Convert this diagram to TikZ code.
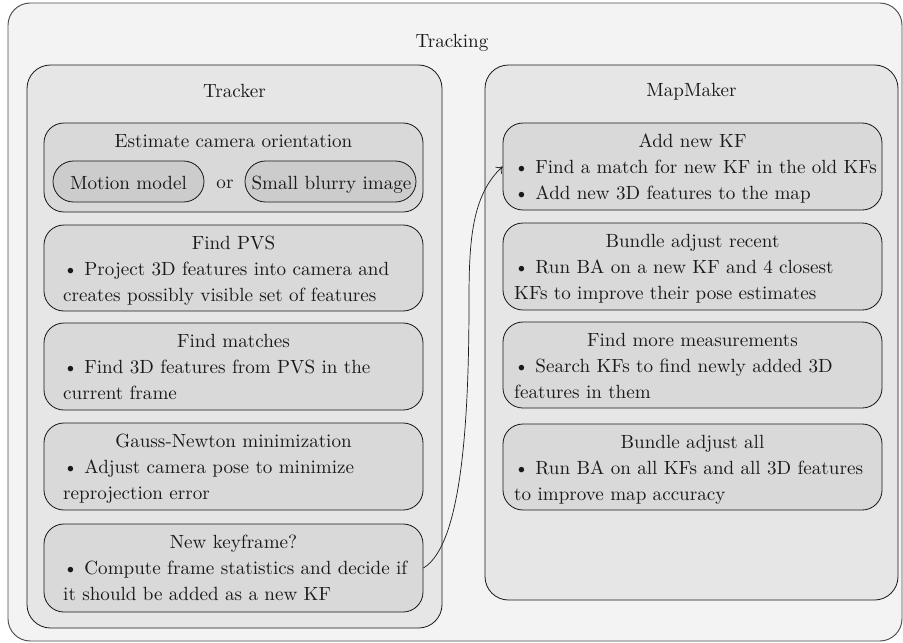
\documentclass[tikz,border=0pt]{standalone}
\usepackage{fontspec}
\setmainfont{lmroman10-regular.otf}
\usetikzlibrary{fit,arrows.meta}

\definecolor{pagebg}{HTML}{F2F3F2}
\definecolor{groupbg}{HTML}{E6E6E6}
\definecolor{stepbg}{HTML}{D9D9D9}
\definecolor{choicebg}{HTML}{CCCCCC}
\definecolor{ink}{HTML}{1A1A1A}

\tikzset{
  outerbox/.style={draw=black!70, fill=pagebg, rounded corners=19pt, line width=0.8pt, inner sep=0pt},
  groupbox/.style={draw=ink, fill=groupbg, rounded corners=20pt, line width=0.7pt, inner sep=0pt},
  stepbox/.style={draw=ink, fill=stepbg, rounded corners=17pt, line width=0.7pt, inner sep=0pt},
  choicebox/.style={draw=ink, fill=choicebg, rounded corners=17.5pt, line width=0.7pt, inner sep=0pt},
  head/.style={anchor=base, inner sep=0pt, text=ink},
  body/.style={anchor=base west, inner sep=0pt, text=ink},
}

\begin{document}
\begin{tikzpicture}[x=0.03cm, y=-0.03cm, font=\fontsize{16.3}{23}\selectfont]

\useasboundingbox (0,0) rectangle (903,642);

% Whole system
\node[outerbox, fit={(8,3) (902,641)}] (tracking) {};
\node[head] (tracking head) at (452,47) {Tracking};

% Tracker thread
\node[groupbox, fit={(27,65) (442,628)}] (tracker) {};
\node[head] (tracker head) at (234.5,97) {Tracker};

\node[stepbox, fit={(44,123) (423,212)}] (est) {};
\node[head] (est head) at (233.5,147) {Estimate camera orientation};
\node[choicebox, fit={(53,161) (204,202)}] (motion) {};
\node[head] (motion text) at (128.5,189) {Motion model};
\node[head] (or) at (225,188) {or};
\node[choicebox, fit={(245,161) (416,202)}] (blurry) {};
\node[head] (blurry text) at (331.5,189) {Small blurry image};

\node[stepbox, fit={(44,225) (423,311)}] (pvs) {};
\node[head] (pvs head) at (233.5,249) {Find PVS};
\node[body] (pvs l1) at (63,275) {\textbullet\ Project 3D features into camera and};
\node[body] (pvs l2) at (63,301) {creates possibly visible set of features};

\node[stepbox, fit={(44,323) (423,410)}] (match) {};
\node[head] (match head) at (233.5,347) {Find matches};
\node[body] (match l1) at (63,373) {\textbullet\ Find 3D features from PVS in the};
\node[body] (match l2) at (63,399) {current frame};

\node[stepbox, fit={(44,423) (423,510)}] (gauss) {};
\node[head] (gauss head) at (233.5,447) {Gauss-Newton minimization};
\node[body] (gauss l1) at (63,473) {\textbullet\ Adjust camera pose to minimize};
\node[body] (gauss l2) at (63,499) {reprojection error};

\node[stepbox, fit={(44,524) (423,612)}] (newkf) {};
\node[head] (newkf head) at (233.5,548) {New keyframe?};
\node[body] (newkf l1) at (63,574) {\textbullet\ Compute frame statistics and decide if};
\node[body] (newkf l2) at (63,600) {it should be added as a new KF};

% MapMaker thread
\node[groupbox, fit={(485,65) (898,600)}] (mapmaker) {};
\node[head] (mapmaker head) at (691.5,96) {MapMaker};

\node[stepbox, fit={(503,123) (882,210)}] (addkf) {};
\node[head] (addkf head) at (692.5,147) {Add new KF};
\node[body] (addkf l1) at (514,173) {\textbullet\ Find a match for new KF in the old KFs};
\node[body] (addkf l2) at (514,199) {\textbullet\ Add new 3D features to the map};

\node[stepbox, fit={(503,223) (882,310)}] (recent) {};
\node[head] (recent head) at (692.5,247) {Bundle adjust recent};
\node[body] (recent l1) at (514,273) {\textbullet\ Run BA on a new KF and 4 closest};
\node[body] (recent l2) at (514,299) {KFs to improve their pose estimates};

\node[stepbox, fit={(503,322) (882,408)}] (more) {};
\node[head] (more head) at (692.5,346) {Find more measurements};
\node[body] (more l1) at (514,372) {\textbullet\ Search KFs to find newly added 3D};
\node[body] (more l2) at (514,398) {features in them};

\node[stepbox, fit={(503,424) (882,510)}] (all) {};
\node[head] (all head) at (692.5,448) {Bundle adjust all};
\node[body] (all l1) at (514,474) {\textbullet\ Run BA on all KFs and all 3D features};
\node[body] (all l2) at (514,500) {to improve map accuracy};

% Keyframe hand-over
\coordinate (handover) at (469,300);
\draw[-{To[length=5pt,width=8pt]}, ink, line width=0.6pt] (newkf.east)
  .. controls (462,545) and (469,420) .. (handover)
  .. controls (469,240) and (472,195) .. (addkf.west);

\end{tikzpicture}
\end{document}
